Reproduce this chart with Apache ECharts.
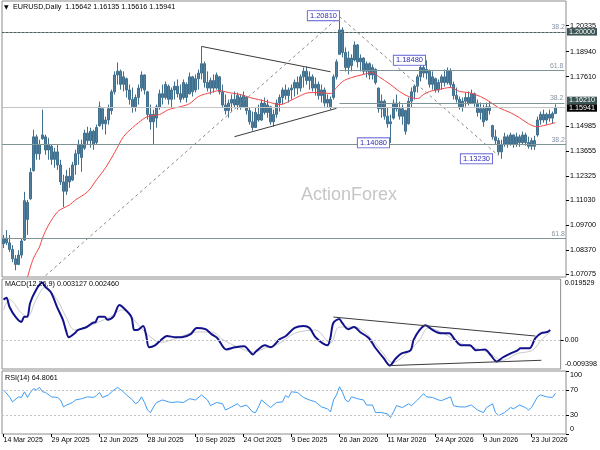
<!DOCTYPE html>
<html><head><meta charset="utf-8">
<script src="https://cdn.jsdelivr.net/npm/echarts@6/dist/echarts.min.js"></script>
<style>html,body{margin:0;padding:0;background:#fff}#c{width:600px;height:450px}</style>
</head><body><div id="c"></div>
<script>
// ---------- DATA ----------
const dateLabels = ['14 Mar 2025','29 Apr 2025','12 Jun 2025','28 Jul 2025','10 Sep 2025','24 Oct 2025','9 Dec 2025','26 Jan 2026','11 Mar 2026','24 Apr 2026','9 Jun 2026','23 Jul 2026'];
const labelEvery = 16;       // bars between date labels
const slotCount = 188;       // bar slots incl. right shift

// each bar: [open, close, low, high]
const bars = [
[1.0870,1.0900,1.0847,1.0917],[1.0900,1.0875,1.0863,1.0943],[1.0875,1.0840,1.0826,1.0917],[1.0840,1.0790,1.0772,1.0863],[1.0790,1.0760,1.0729,1.0810],
[1.0760,1.0810,1.0756,1.0836],[1.0810,1.0885,1.0793,1.0901],[1.0890,1.1100,1.0885,1.1147],[1.1090,1.1000,1.0917,1.1104],[1.1110,1.1250,1.1104,1.1275],
[1.1260,1.1440,1.1255,1.1478],[1.1440,1.1350,1.1318,1.1452],[1.1350,1.1400,1.1318,1.1425],[1.1430,1.1450,1.1425,1.1585],[1.1440,1.1370,1.1345,1.1452],
[1.1370,1.1400,1.1318,1.1435],[1.1390,1.1320,1.1291,1.1398],[1.1320,1.1360,1.1275,1.1382],[1.1360,1.1290,1.1264,1.1398],[1.1290,1.1200,1.1184,1.1318],
[1.1200,1.1150,1.1066,1.1238],[1.1150,1.1230,1.1131,1.1264],[1.1230,1.1200,1.1168,1.1275],[1.1210,1.1290,1.1205,1.1307],[1.1290,1.1350,1.1238,1.1371],
[1.1350,1.1400,1.1291,1.1425],[1.1400,1.1330,1.1254,1.1425],[1.1380,1.1460,1.1371,1.1478],[1.1460,1.1420,1.1398,1.1494],[1.1420,1.1470,1.1382,1.1489],
[1.1470,1.1400,1.1371,1.1478],[1.1410,1.1490,1.1398,1.1505],[1.1500,1.1600,1.1494,1.1628],[1.1590,1.1510,1.1478,1.1595],[1.1510,1.1530,1.1452,1.1548],
[1.1530,1.1590,1.1505,1.1612],[1.1580,1.1680,1.1559,1.1692],[1.1680,1.1770,1.1666,1.1789],[1.1770,1.1790,1.1719,1.1837],[1.1790,1.1720,1.1692,1.1799],
[1.1720,1.1760,1.1682,1.1789],[1.1750,1.1690,1.1650,1.1756],[1.1690,1.1640,1.1612,1.1719],[1.1640,1.1600,1.1569,1.1703],[1.1600,1.1650,1.1575,1.1666],
[1.1650,1.1700,1.1612,1.1719],[1.1700,1.1770,1.1682,1.1789],[1.1770,1.1690,1.1666,1.1773],[1.1680,1.1560,1.1532,1.1685],[1.1560,1.1520,1.1478,1.1612],
[1.1520,1.1560,1.1398,1.1585],[1.1540,1.1600,1.1489,1.1612],[1.1600,1.1670,1.1585,1.1692],[1.1670,1.1650,1.1612,1.1719],[1.1650,1.1720,1.1639,1.1735],
[1.1710,1.1640,1.1612,1.1719],[1.1640,1.1690,1.1596,1.1703],[1.1690,1.1710,1.1639,1.1735],[1.1710,1.1670,1.1650,1.1746],[1.1670,1.1640,1.1623,1.1719],
[1.1650,1.1730,1.1639,1.1746],[1.1720,1.1650,1.1623,1.1730],[1.1670,1.1760,1.1666,1.1783],[1.1760,1.1680,1.1655,1.1765],[1.1690,1.1750,1.1676,1.1773],
[1.1750,1.1780,1.1692,1.1799],[1.1780,1.1830,1.1746,1.1922],[1.1830,1.1730,1.1703,1.1842],[1.1730,1.1700,1.1682,1.1789],[1.1700,1.1740,1.1666,1.1756],
[1.1740,1.1700,1.1676,1.1773],[1.1700,1.1770,1.1692,1.1783],[1.1760,1.1680,1.1666,1.1765],[1.1680,1.1610,1.1596,1.1719],[1.1610,1.1580,1.1559,1.1666],
[1.1580,1.1620,1.1542,1.1639],[1.1620,1.1640,1.1575,1.1666],[1.1640,1.1610,1.1596,1.1682],[1.1610,1.1660,1.1585,1.1676],[1.1650,1.1600,1.1585,1.1666],
[1.1600,1.1660,1.1596,1.1682],[1.1650,1.1580,1.1559,1.1655],[1.1580,1.1520,1.1505,1.1596],[1.1520,1.1490,1.1473,1.1575],[1.1490,1.1570,1.1489,1.1596],
[1.1560,1.1530,1.1521,1.1612],[1.1530,1.1620,1.1525,1.1639],[1.1620,1.1570,1.1559,1.1650],[1.1570,1.1610,1.1542,1.1639],[1.1600,1.1520,1.1505,1.1605],
[1.1520,1.1560,1.1494,1.1585],[1.1560,1.1620,1.1542,1.1639],[1.1620,1.1650,1.1575,1.1666],[1.1650,1.1690,1.1612,1.1703],[1.1690,1.1660,1.1639,1.1719],
[1.1660,1.1690,1.1623,1.1703],[1.1690,1.1700,1.1639,1.1719],[1.1700,1.1730,1.1655,1.1746],[1.1730,1.1700,1.1666,1.1762],[1.1700,1.1760,1.1682,1.1773],
[1.1760,1.1790,1.1703,1.1810],[1.1790,1.1740,1.1719,1.1815],[1.1740,1.1760,1.1692,1.1789],[1.1760,1.1700,1.1682,1.1773],[1.1700,1.1720,1.1660,1.1756],
[1.1720,1.1660,1.1639,1.1735],[1.1660,1.1690,1.1623,1.1719],[1.1690,1.1620,1.1601,1.1703],[1.1620,1.1640,1.1596,1.1666],[1.1640,1.1600,1.1585,1.1655],
[1.1650,1.1760,1.1639,1.1773],[1.1760,1.1840,1.1746,1.1853],[1.1880,1.2010,1.1880,1.2081],[1.2010,1.1890,1.1864,1.2024],[1.1890,1.1810,1.1789,1.1917],
[1.1810,1.1860,1.1773,1.1896],[1.1860,1.1820,1.1789,1.1880],[1.1850,1.1930,1.1842,1.1949],[1.1930,1.1840,1.1810,1.1935],[1.1840,1.1860,1.1789,1.1880],
[1.1860,1.1790,1.1773,1.1864],[1.1790,1.1830,1.1756,1.1842],[1.1830,1.1770,1.1746,1.1837],[1.1770,1.1810,1.1746,1.1826],[1.1800,1.1730,1.1719,1.1805],
[1.1700,1.1590,1.1569,1.1703],[1.1590,1.1630,1.1542,1.1666],[1.1630,1.1550,1.1532,1.1639],[1.1550,1.1510,1.1489,1.1596],[1.1510,1.1520,1.1408,1.1559],
[1.1540,1.1620,1.1532,1.1639],[1.1620,1.1590,1.1575,1.1666],[1.1590,1.1550,1.1532,1.1628],[1.1550,1.1590,1.1505,1.1612],[1.1580,1.1470,1.1452,1.1585],
[1.1510,1.1630,1.1505,1.1650],[1.1630,1.1680,1.1596,1.1703],[1.1680,1.1710,1.1639,1.1719],[1.1710,1.1760,1.1676,1.1773],[1.1760,1.1810,1.1735,1.1826],
[1.1810,1.1780,1.1756,1.1840],[1.1780,1.1800,1.1746,1.1848],[1.1790,1.1720,1.1703,1.1799],[1.1720,1.1760,1.1692,1.1789],[1.1750,1.1690,1.1676,1.1756],
[1.1690,1.1730,1.1676,1.1746],[1.1730,1.1760,1.1692,1.1773],[1.1760,1.1730,1.1708,1.1799],[1.1730,1.1790,1.1719,1.1810],[1.1790,1.1720,1.1703,1.1805],
[1.1720,1.1660,1.1639,1.1735],[1.1660,1.1640,1.1623,1.1703],[1.1640,1.1600,1.1585,1.1655],[1.1600,1.1630,1.1575,1.1650],[1.1630,1.1650,1.1601,1.1676],
[1.1650,1.1620,1.1607,1.1682],[1.1620,1.1670,1.1615,1.1692],[1.1670,1.1620,1.1601,1.1676],[1.1620,1.1570,1.1548,1.1639],[1.1570,1.1590,1.1532,1.1623],
[1.1590,1.1520,1.1494,1.1612],[1.1530,1.1600,1.1525,1.1623],[1.1600,1.1580,1.1559,1.1628],[1.1500,1.1440,1.1425,1.1505],[1.1440,1.1420,1.1398,1.1478],
[1.1420,1.1360,1.1345,1.1435],[1.1360,1.1400,1.1323,1.1425],[1.1400,1.1440,1.1387,1.1462],[1.1440,1.1400,1.1382,1.1452],[1.1400,1.1450,1.1393,1.1462],
[1.1450,1.1400,1.1382,1.1452],[1.1400,1.1440,1.1387,1.1462],[1.1440,1.1410,1.1387,1.1452],[1.1410,1.1450,1.1398,1.1468],[1.1450,1.1410,1.1393,1.1462],
[1.1410,1.1390,1.1377,1.1441],[1.1390,1.1420,1.1371,1.1435],[1.1420,1.1390,1.1371,1.1446],[1.1450,1.1530,1.1441,1.1548],[1.1530,1.1560,1.1505,1.1575],
[1.1560,1.1530,1.1516,1.1585],[1.1530,1.1560,1.1505,1.1569],[1.1560,1.1540,1.1521,1.1585],[1.1540,1.1564,1.1510,1.1575],[1.15642,1.15941,1.15616,1.16135]
];

// moving average [barIndex, value]
const maPoints = [[8,1.0692],[10,1.0794],[12,1.0853],[13,1.0901],[15,1.0970],[18,1.1040],[20,1.1061],[22,1.1077],[24,1.1104],[28,1.1147],[31,1.1211],[34,1.1275],[37,1.1355],[40,1.1441],[43,1.1489],[45,1.1516],[48,1.1548],[52,1.1559],[55,1.1585],[59,1.1601],[62,1.1617],[65,1.1655],[69,1.1676],[72,1.1687],[75,1.1676],[79,1.1666],[82,1.1650],[85,1.1639],[89,1.1623],[92,1.1612],[95,1.1628],[99,1.1660],[102,1.1676],[105,1.1676],[109,1.1671],[111,1.1703],[113,1.1735],[116,1.1756],[120,1.1773],[123,1.1783],[125,1.1762],[129,1.1719],[132,1.1682],[135,1.1655],[138,1.1644],[140,1.1666],[142,1.1682],[145,1.1692],[149,1.1703],[152,1.1682],[155,1.1676],[159,1.1655],[162,1.1628],[165,1.1596],[169,1.1569],[172,1.1542],[175,1.1510],[178,1.1494],[180,1.1500],[184,1.1516]];

// MACD main line and signal [barIndex, value]
const macdPoints = [[0,0.0129],[1,0.0135],[2,0.0106],[4,0.0074],[6,0.0057],[7,0.0074],[8,0.0074],[9,0.0119],[11,0.0161],[13,0.0184],[14,0.0171],[16,0.0152],[18,0.0106],[20,0.0064],[21,0.0031],[22,0.0008],[24,0.0021],[25,0.0031],[28,0.0041],[30,0.0054],[31,0.0057],[32,0.0074],[34,0.0074],[35,0.0064],[37,0.0074],[39,0.0112],[40,0.0106],[43,0.0074],[44,0.0031],[45,0.0031],[47,0.0044],[48,0.0015],[49,-0.0024],[51,-0.0018],[53,-0.0001],[55,0.0012],[58,0.0008],[60,0.0008],[63,0.0018],[65,0.0038],[68,0.0034],[70,0.0018],[72,0.0005],[75,-0.0031],[78,-0.0024],[81,-0.0021],[84,-0.0047],[85,-0.0037],[88,-0.0018],[90,-0.0024],[93,0.0002],[95,0.0012],[98,0.0038],[101,0.0044],[103,0.0038],[105,0.0008],[109,-0.0018],[110,0.0005],[111,0.0054],[113,0.0067],[114,0.0054],[116,0.0034],[118,0.0041],[120,0.0025],[123,0.0005],[125,-0.0024],[128,-0.0060],[130,-0.0083],[132,-0.0060],[134,-0.0044],[137,-0.0034],[138,-0.0001],[140,0.0031],[142,0.0047],[144,0.0034],[147,0.0021],[150,0.0021],[152,-0.0001],[154,-0.0018],[157,-0.0018],[159,-0.0034],[162,-0.0031],[164,-0.0050],[166,-0.0070],[168,-0.0057],[170,-0.0047],[173,-0.0034],[174,-0.0027],[177,-0.0027],[179,0.0005],[181,0.0021],[183,0.0025],[184,0.003127]];
const signalPoints = [[0,0.0096],[2,0.0129],[6,0.0086],[8,0.0074],[11,0.0129],[14,0.0168],[18,0.0129],[21,0.0074],[24,0.0031],[28,0.0041],[32,0.0057],[36,0.0074],[40,0.0096],[43,0.0074],[46,0.0041],[50,0.0005],[53,-0.0008],[59,0.0008],[65,0.0025],[70,0.0025],[74,-0.0001],[79,-0.0024],[84,-0.0040],[88,-0.0027],[93,-0.0011],[98,0.0021],[105,0.0031],[110,-0.0011],[113,0.0041],[118,0.0041],[122,0.0021],[127,-0.0034],[131,-0.0073],[135,-0.0050],[140,-0.0001],[143,0.0038],[148,0.0021],[153,-0.0008],[158,-0.0024],[163,-0.0040],[168,-0.0066],[173,-0.0044],[178,-0.0034],[181,-0.0001],[184,0.00246]];

// RSI(14) [barIndex, value]
const rsiPoints = [[0,70],[2,59],[3,51],[5,59],[6,58],[7,67],[8,58],[9,66],[10,72],[11,70],[12,74],[13,67],[14,66],[16,59],[18,58],[19,54],[20,43],[21,46],[23,50],[24,54],[26,56],[28,59],[30,58],[31,61],[32,66],[33,58],[35,62],[36,67],[38,74],[40,67],[41,62],[43,54],[44,48],[45,51],[46,59],[47,50],[48,38],[49,34],[50,43],[51,50],[53,54],[55,51],[56,50],[58,51],[60,50],[62,56],[64,54],[66,62],[68,54],[69,45],[71,50],[73,48],[74,38],[76,43],[78,48],[79,43],[81,46],[83,35],[84,34],[85,43],[86,54],[88,46],[89,42],[91,50],[93,51],[94,61],[95,58],[96,67],[98,66],[99,62],[100,58],[102,54],[104,51],[106,43],[108,40],[109,35],[110,54],[111,62],[112,75],[113,66],[114,54],[115,51],[116,59],[118,56],[120,54],[121,46],[123,46],[124,34],[126,34],[128,32],[129,26],[130,35],[131,45],[133,42],[135,48],[136,45],[138,54],[140,64],[141,59],[143,58],[145,54],[146,53],[149,59],[150,45],[152,43],[154,43],[156,46],[158,38],[160,34],[161,42],[163,48],[164,34],[165,29],[167,34],[169,42],[170,40],[172,46],[174,42],[175,38],[176,42],[178,59],[179,62],[181,59],[183,58],[184,64.8061]];

// axis tick labels
const priceTicks = [1.07075,1.08370,1.09700,1.11030,1.12325,1.13655,1.14985,1.17610,1.18940,1.20335];
const macdTicks = [-0.009398, 0, 0.019529];
const rsiTicks = [0, 30, 70, 100];

// marked swing points
const pivotIndex = [112, 141, 129, 166];
const pivotPrice = [1.2081, 1.1848, 1.1408, 1.1323];
const pivotText = ['1.20810', '1.18480', '1.14080', '1.13230'];

// horizontal levels
const fibFullLevels = [1.2030, 1.1358, 1.0905];
const fibFullText = ['38.2', '38.2', '61.8'];
const fibPartLevels = [1.1796, 1.1621];
const fibPartText = ['61.8', '38.2'];
const fibPartStart = 112;
const roundLevel = 1.2000;
const fibLevel = 1.1621;
const lastPrice = 1.15941;
const keyLevels = [roundLevel, fibLevel];

// drawn trend lines [[i0, v0], [i1, v1]]
const triangleLines = [[[66,1.1922],[109,1.1787]], [[77,1.1441],[111,1.1592]]];
const dashedLines = [[[14,1.0700],[112,1.2081]], [[112,1.2081],[165,1.1340]]];
const macdLines = [[[111,0.0073],[179,0.0012]], [[130,-0.0083],[181,-0.0066]]];

// ---------- CHART ----------
const FONT = 'Liberation Sans, Arial, DejaVu Sans, sans-serif';
const categories = Array.from({length: slotCount}, (_, i) => String(i));
const chart = echarts.init(document.getElementById('c'), null, {renderer: 'canvas'});
const near = (a, b) => Math.abs(a - b) < 1e-9;

const fibLabel = (text) => ({
  show: true, position: 'insideEndTop', distance: 1, formatter: text,
  color: '#8796a6', fontSize: 7, fontFamily: FONT
});
const fibStyle = {type: 'solid', color: '#7f9494', width: 1};
const dotStyle = {type: [2, 2], color: '#4e5c5c', width: 1};

const mainMarkLines = [];
fibFullLevels.forEach((v, k) => mainMarkLines.push({yAxis: v, lineStyle: fibStyle, label: fibLabel(fibFullText[k])}));
fibPartLevels.forEach((v, k) => mainMarkLines.push([
  {coord: [fibPartStart, v], lineStyle: fibStyle, label: fibLabel(fibPartText[k])},
  {coord: [slotCount - 1, v]}
]));
triangleLines.forEach(l => mainMarkLines.push([{coord: l[0], lineStyle: {type: 'solid', color: '#3c3c3c', width: 1}, label: {show: false}}, {coord: l[1]}]));
dashedLines.forEach(l => mainMarkLines.push([{coord: l[0], lineStyle: {type: [3, 3], color: '#8a8a8a', width: 1}, label: {show: false}}, {coord: l[1]}]));
keyLevels.forEach(v => mainMarkLines.push({yAxis: v, lineStyle: dotStyle, label: {show: false}}));
mainMarkLines.push({yAxis: lastPrice, lineStyle: {type: 'solid', color: '#c4c4c4', width: 1}, label: {show: false}});

const pivotData = pivotIndex.map((idx, k) => ({
  coord: [idx, pivotPrice[k]],
  label: {formatter: pivotText[k], distance: k === 3 ? 9 : 1, offset: k === 0 ? [1, -1] : [0, 0]}
}));

const tickAxisLabel = (vals, fmt, rich) => ({
  customValues: vals, formatter: fmt, fontSize: 7.2, color: '#000', fontFamily: FONT, margin: 4, rich: rich,
  showMinLabel: true, showMaxLabel: true
});
const edgeRich = {
  t: {padding: [9, 0, 0, 0], fontSize: 7.2, color: '#000', fontFamily: FONT},
  b: {padding: [0, 0, 9, 0], fontSize: 7.2, color: '#000', fontFamily: FONT}
};
const boxStyle = (bg) => ({color: '#fff', backgroundColor: bg, padding: [0, 2, 0, 2], lineHeight: 7.5, height: 7.5, fontSize: 7.2, fontFamily: FONT});
const boxRich = {k: boxStyle('#3b5454'), p: boxStyle('#000'), s: {height: 5, lineHeight: 5, fontSize: 1}};
const boxAxis = (vals, fmt) => ({
  type: 'value', gridIndex: 0, position: 'right', min: 1.06930, max: 1.21643,
  axisLine: {show: false}, splitLine: {show: false}, axisTick: {show: false},
  axisLabel: {customValues: vals, margin: 1, rich: boxRich, hideOverlap: false, showMinLabel: true, showMaxLabel: true, formatter: fmt}
});

const gridBase = {left: 2, right: 34, show: true, borderColor: '#8c8c8c', borderWidth: 1, backgroundColor: 'transparent'};

const option = {
  animation: false,
  backgroundColor: '#fff',
  title: [
    {text: '\u25BC', left: 4, top: 4, padding: 0, textStyle: {fontSize: 6, color: '#000', fontWeight: 'normal', fontFamily: 'DejaVu Sans'}},
    {text: 'EURUSD,Daily  1.15642 1.16135 1.15616 1.15941', left: 13, top: 4, padding: 0, textStyle: {fontSize: 7.2, color: '#000', fontWeight: 'normal', fontFamily: FONT}},
    {text: 'ActionForex', left: 301, top: 186, padding: 0, textStyle: {fontSize: 18, color: '#c6c6c6', fontWeight: 'normal', fontFamily: FONT}},
    {text: 'MACD(12,26,9) 0.003127 0.002460', left: 5, top: 281, padding: 0, textStyle: {fontSize: 7.2, color: '#000', fontWeight: 'normal', fontFamily: FONT}},
    {text: 'RSI(14) 64.8061', left: 5, top: 375, padding: 0, textStyle: {fontSize: 7.2, color: '#000', fontWeight: 'normal', fontFamily: FONT}}
  ],
  grid: [
    Object.assign({top: 1, height: 276}, gridBase),
    Object.assign({top: 279, height: 90}, gridBase),
    Object.assign({top: 371, height: 63}, gridBase)
  ],
  xAxis: [0, 1, 2].map(g => ({
    type: 'category', gridIndex: g, data: categories, boundaryGap: true,
    axisLine: {show: false}, splitLine: {show: false},
    axisTick: g === 2 ? {show: true, alignWithLabel: true, interval: (i) => i % labelEvery === 0, length: 3, lineStyle: {color: '#000'}} : {show: false},
    axisLabel: g === 2 ? {
      show: true, interval: 0, align: 'left', margin: 3, fontSize: 7, color: '#000', fontFamily: FONT,
      formatter: (v, i) => (i % labelEvery === 0 && dateLabels[i / labelEvery]) ? dateLabels[i / labelEvery] : ''
    } : {show: false}
  })),
  yAxis: [
    {type: 'value', gridIndex: 0, position: 'right', min: 1.06930, max: 1.21643,
     axisLine: {show: false}, splitLine: {show: false},
     axisTick: {show: true, customValues: priceTicks, length: 3, lineStyle: {color: '#000'}},
     axisLabel: tickAxisLabel(priceTicks, v => v.toFixed(5))},
    {type: 'value', gridIndex: 1, position: 'right', min: -0.009398, max: 0.019529,
     axisLine: {show: false}, splitLine: {show: false},
     axisTick: {show: true, customValues: [0], length: 3, lineStyle: {color: '#000'}},
     axisLabel: tickAxisLabel(macdTicks, v => near(v, 0) ? '0.00' : (v > 0 ? '{t|' + v.toFixed(6) + '}' : '{b|' + v.toFixed(6) + '}'), edgeRich)},
    {type: 'value', gridIndex: 2, position: 'right', min: 0, max: 100,
     axisLine: {show: false}, splitLine: {show: false},
     axisTick: {show: true, customValues: rsiTicks, length: 3, lineStyle: {color: '#000'}},
     axisLabel: tickAxisLabel(rsiTicks, v => v === 100 ? '{t|100}' : (v === 0 ? '{b|0}' : String(v)), edgeRich)},
    // boxed level labels (separate axes so they never suppress each other)
    boxAxis(keyLevels, v => near(v, fibLevel) ? '{k|' + v.toFixed(5) + '}\n{s| }' : '{k|' + v.toFixed(5) + '}'),
    boxAxis([lastPrice], v => '{p|' + v.toFixed(5) + '}')
  ],
  series: [
    {
      name: 'EURUSD', type: 'candlestick', xAxisIndex: 0, yAxisIndex: 0, data: bars,
      barWidth: 1.6,
      itemStyle: {color: '#4f809f', color0: '#4f809f', borderColor: '#41708e', borderColor0: '#41708e', borderWidth: 1},
      markLine: {silent: true, symbol: ['none', 'none'], animation: false, label: {show: false}, data: mainMarkLines},
      markPoint: {
        silent: true, symbol: 'circle', symbolSize: 1, itemStyle: {color: 'rgba(0,0,0,0)'},
        label: {show: true, position: 'left', fontSize: 7.5, color: '#2d2db4', backgroundColor: '#fff',
                borderColor: '#6c6cd8', borderWidth: 1, padding: [1, 2, 0, 2], fontFamily: FONT},
        data: pivotData
      }
    },
    {name: 'MA', type: 'line', xAxisIndex: 0, yAxisIndex: 0, data: maPoints, showSymbol: false, smooth: 0.35,
     lineStyle: {color: '#f04646', width: 1}, z: 3},
    {name: 'Signal', type: 'line', xAxisIndex: 1, yAxisIndex: 1, data: signalPoints, showSymbol: false, smooth: 0.35,
     lineStyle: {color: '#c8c8c8', width: 1},
     markLine: {silent: true, symbol: ['none', 'none'], label: {show: false},
       data: [{yAxis: 0, lineStyle: {type: [2, 2], color: '#c4c4c4', width: 1}}].concat(
         macdLines.map(l => [{coord: l[0], lineStyle: {type: 'solid', color: '#3c3c3c', width: 1}}, {coord: l[1]}]))}},
    {name: 'MACD', type: 'line', xAxisIndex: 1, yAxisIndex: 1, data: macdPoints, showSymbol: false, smooth: 0.3,
     lineStyle: {color: '#12128c', width: 2}, z: 4},
    {name: 'RSI', type: 'line', xAxisIndex: 2, yAxisIndex: 2, data: rsiPoints, showSymbol: false,
     lineStyle: {color: '#3f9cf2', width: 1},
     markLine: {silent: true, symbol: ['none', 'none'], label: {show: false},
       data: [{yAxis: 70}, {yAxis: 30}], lineStyle: {type: [2, 2], color: '#c4c4c4', width: 1}}}
  ]
};
chart.setOption(option);
</script>
</body></html>
